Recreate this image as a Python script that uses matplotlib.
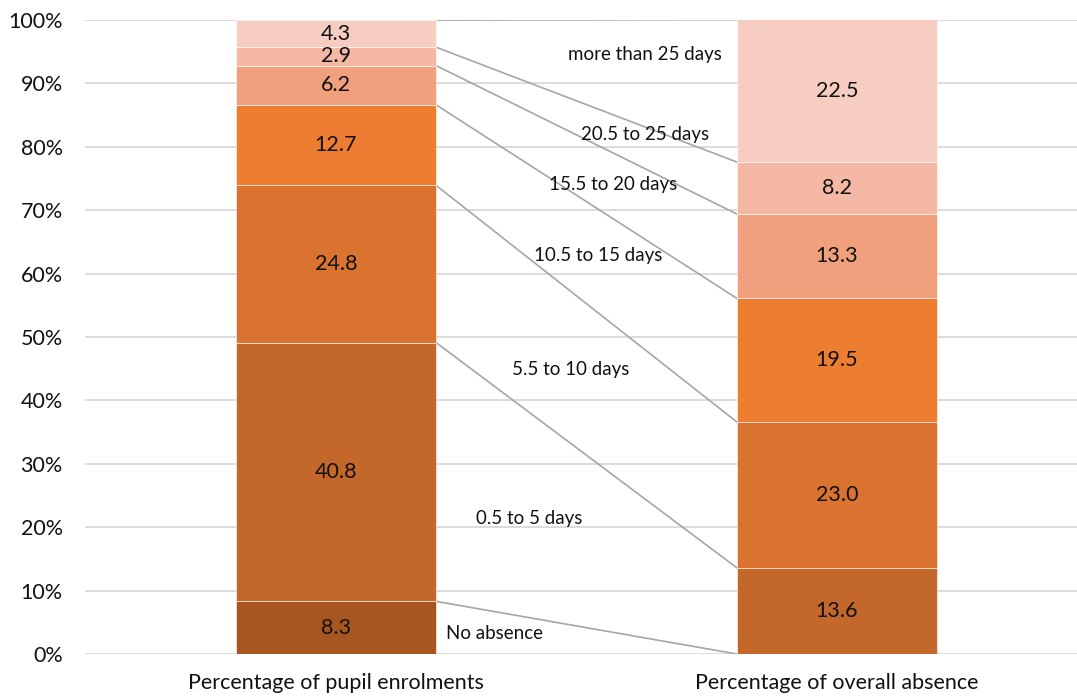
import matplotlib
matplotlib.use("Agg")
import matplotlib.pyplot as plt
import numpy as np

plt.rcParams['font.family'] = ['Lato', 'DejaVu Sans']

categories = ["Percentage of pupil enrolments", "Percentage of overall absence"]
bands = ["No absence", "0.5 to 5 days", "5.5 to 10 days", "10.5 to 15 days",
         "15.5 to 20 days", "20.5 to 25 days", "more than 25 days"]
enrolments = [8.3, 40.8, 24.8, 12.7, 6.2, 2.9, 4.3]
absence = [0.0, 13.6, 23.0, 19.5, 13.3, 8.2, 22.5]
colors = ["#A75620", "#C4672A", "#D9732F", "#ED7D31", "#F0A07C", "#F4B8A4", "#F8CDC1"]
band_label_x = [0.317, 0.385, 0.469, 0.523, 0.553, 0.617, 0.617]
band_label_y = [3.3, 21.3, 44.8, 62.9, 74.1, 81.9, 94.6]
yticks = [0, 10, 20, 30, 40, 50, 60, 70, 80, 90, 100]

fig = plt.figure(figsize=(10.77, 6.96), dpi=100)
ax = fig.add_axes([85/1077, 1-654/696, 1-85/1077, 634/696])

x = np.arange(len(categories))
width = 0.4
data = np.array([enrolments, absence])
bottoms = np.zeros(2)
for i, band in enumerate(bands):
    vals = data[:, i]
    ax.bar(x, vals, width, bottom=bottoms, color=colors[i],
           edgecolor='white', linewidth=0.4, zorder=3)
    for j in range(2):
        if vals[j] > 0:
            ax.text(x[j], bottoms[j] + vals[j]/2, f"{vals[j]:.1f}",
                    ha='center', va='center', fontsize=15.5, color='#111111', zorder=4)
    bottoms = bottoms + vals

# connector lines
cum_left = np.concatenate([[0], np.cumsum(enrolments)])
cum_right = np.concatenate([[0], np.cumsum(absence)])
for k in range(1, len(bands) + 1):
    ax.plot([x[0] + width/2, x[1] - width/2], [cum_left[k], cum_right[k]],
            color='#A6A6A6', linewidth=1.2, zorder=2)

for lab, lx, ly in zip(bands, band_label_x, band_label_y):
    ax.text(lx, ly, lab, ha='center', va='center', fontsize=13.5, color='#111111', zorder=4)

ax.set_xlim(-0.501, 1.479)
ax.set_ylim(0, 100)
ax.set_yticks(yticks)
ax.set_yticklabels([f"{t}%" for t in yticks])
ax.set_xticks(x)
ax.set_xticklabels(categories)
ax.tick_params(axis='both', length=0, labelsize=15.5, colors='#111111')
ax.tick_params(axis='y', pad=16)
ax.tick_params(axis='x', pad=14)
ax.grid(axis='y', color='#D9D9D9', linewidth=1.3, zorder=0)
ax.set_axisbelow(True)
for s in ax.spines.values():
    s.set_visible(False)

fig.savefig("out.png", dpi=100)
